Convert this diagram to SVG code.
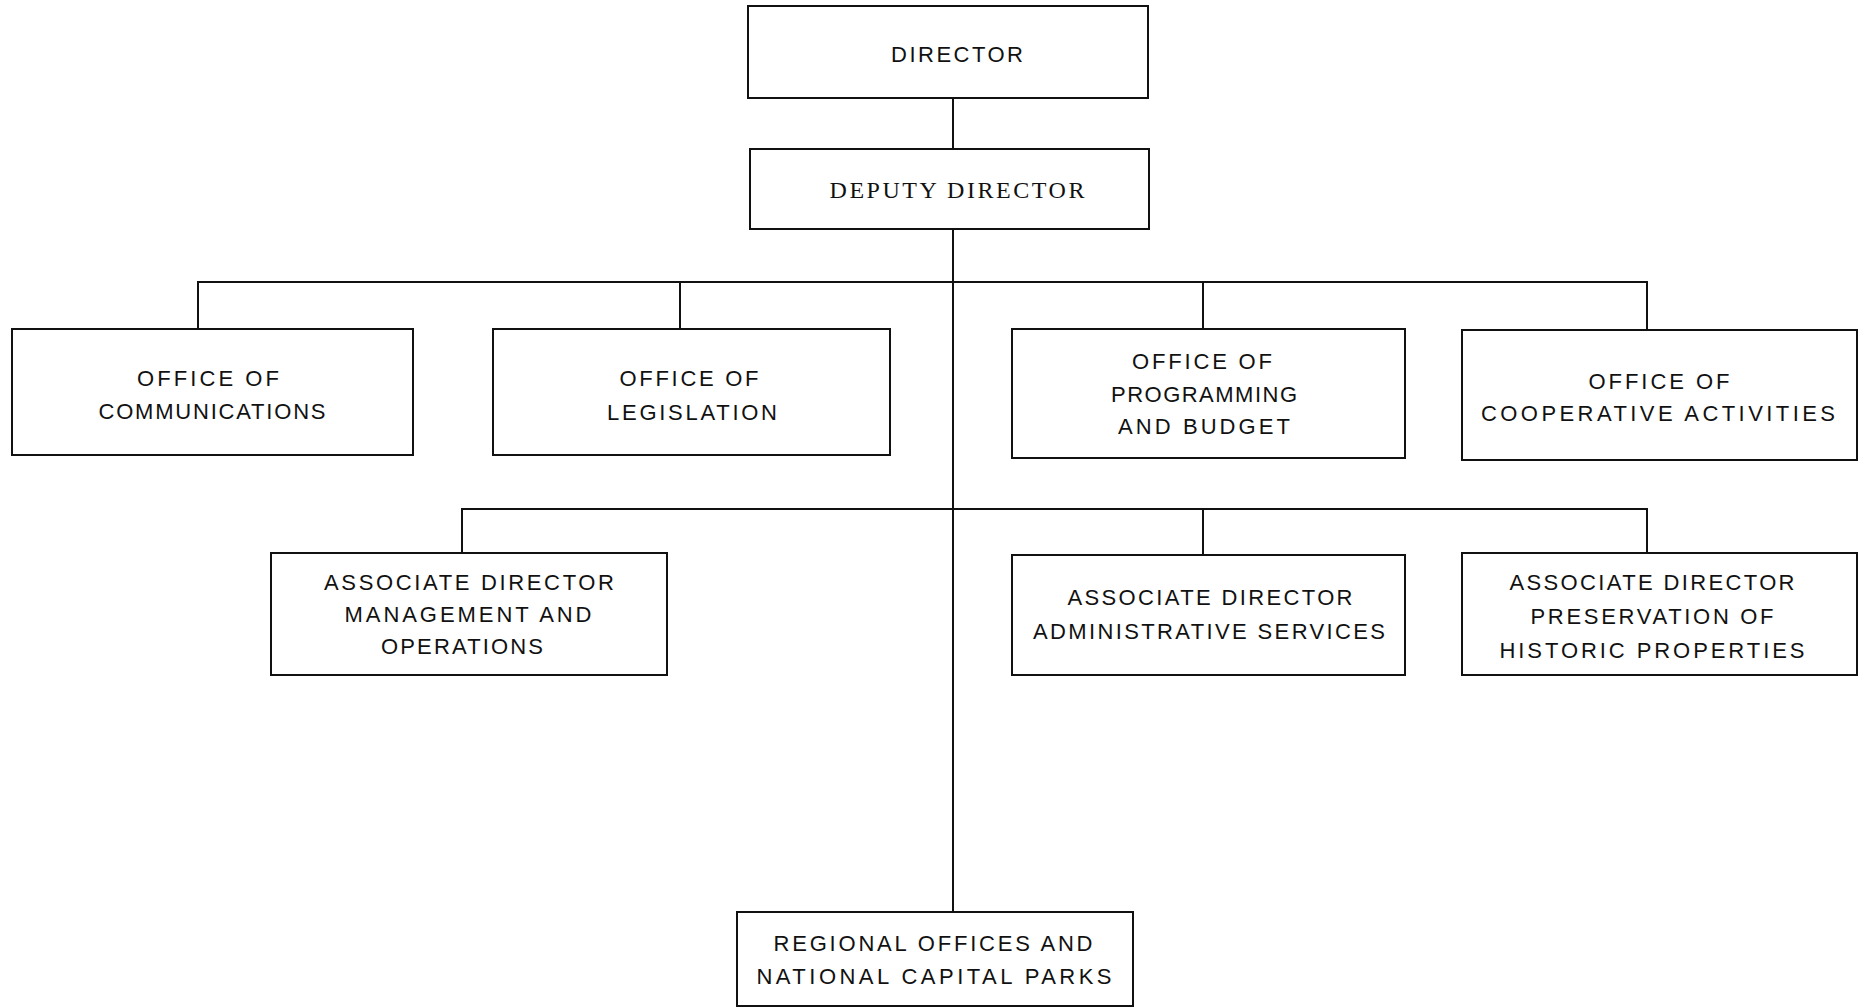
<svg xmlns="http://www.w3.org/2000/svg" width="1866" height="1007" viewBox="0 0 1866 1007">
<style>
.box{fill:#fff;stroke:#111;stroke-width:2}
.t{font-family:"Liberation Sans",Arial,sans-serif;font-size:22px;fill:#111;text-anchor:middle}
.s{font-family:"Liberation Serif","Times New Roman",serif;font-size:24px;fill:#111;text-anchor:middle}
.c{fill:none;stroke:#111;stroke-width:2}
</style>
<rect width="1866" height="1007" fill="#fff"/>
<g id="connectors">
<path class="c" d="M953 98V149M953 229V912"/>
<path class="c" d="M198 329V282H1647V329M680 282V329M1203 282V329"/>
<path class="c" d="M462 553V509H1647V553M1203 509V555"/>
</g>
<g id="director">
<rect class="box" x="748" y="6" width="400" height="92"/>
<text class="t" x="957" y="62" font-size="24" textLength="132">DIRECTOR</text>
</g>
<g id="deputy-director">
<rect class="box" x="750" y="149" width="399" height="80"/>
<text class="s" x="957" y="198" textLength="255">DEPUTY DIRECTOR</text>
</g>
<g id="office-communications">
<rect class="box" x="12" y="329" width="401" height="126"/>
<text class="t" x="208" y="386" textLength="142">OFFICE OF</text>
<text class="t" x="212" y="419" textLength="227">COMMUNICATIONS</text>
</g>
<g id="office-legislation">
<rect class="box" x="493" y="329" width="397" height="126"/>
<text class="t" x="689" y="386" textLength="139">OFFICE OF</text>
<text class="t" x="692" y="420" textLength="170">LEGISLATION</text>
</g>
<g id="office-programming">
<rect class="box" x="1012" y="329" width="393" height="129"/>
<text class="t" x="1202" y="369" textLength="140">OFFICE OF</text>
<text class="t" x="1204" y="402" textLength="186">PROGRAMMING</text>
<text class="t" x="1204" y="434" textLength="172">AND BUDGET</text>
</g>
<g id="office-cooperative">
<rect class="box" x="1462" y="330" width="395" height="130"/>
<text class="t" x="1659" y="389" textLength="141">OFFICE OF</text>
<text class="t" x="1658" y="421" textLength="354">COOPERATIVE  ACTIVITIES</text>
</g>
<g id="assoc-management">
<rect class="box" x="271" y="553" width="396" height="122"/>
<text class="t" x="469" y="590" textLength="290">ASSOCIATE DIRECTOR</text>
<text class="t" x="468" y="622" textLength="247">MANAGEMENT AND</text>
<text class="t" x="462" y="654" textLength="162">OPERATIONS</text>
</g>
<g id="assoc-administrative">
<rect class="box" x="1012" y="555" width="393" height="120"/>
<text class="t" x="1210" y="605" textLength="285">ASSOCIATE DIRECTOR</text>
<text class="t" x="1209" y="639" textLength="352">ADMINISTRATIVE SERVICES</text>
</g>
<g id="assoc-preservation">
<rect class="box" x="1462" y="553" width="395" height="122"/>
<text class="t" x="1652" y="590" textLength="285">ASSOCIATE DIRECTOR</text>
<text class="t" x="1652" y="624" textLength="243">PRESERVATION OF</text>
<text class="t" x="1652" y="658" textLength="305">HISTORIC  PROPERTIES</text>
</g>
<g id="regional-offices">
<rect class="box" x="737" y="912" width="396" height="94"/>
<text class="t" x="933" y="951" textLength="319">REGIONAL OFFICES AND</text>
<text class="t" x="934" y="984" textLength="355">NATIONAL CAPITAL PARKS</text>
</g>
</svg>
